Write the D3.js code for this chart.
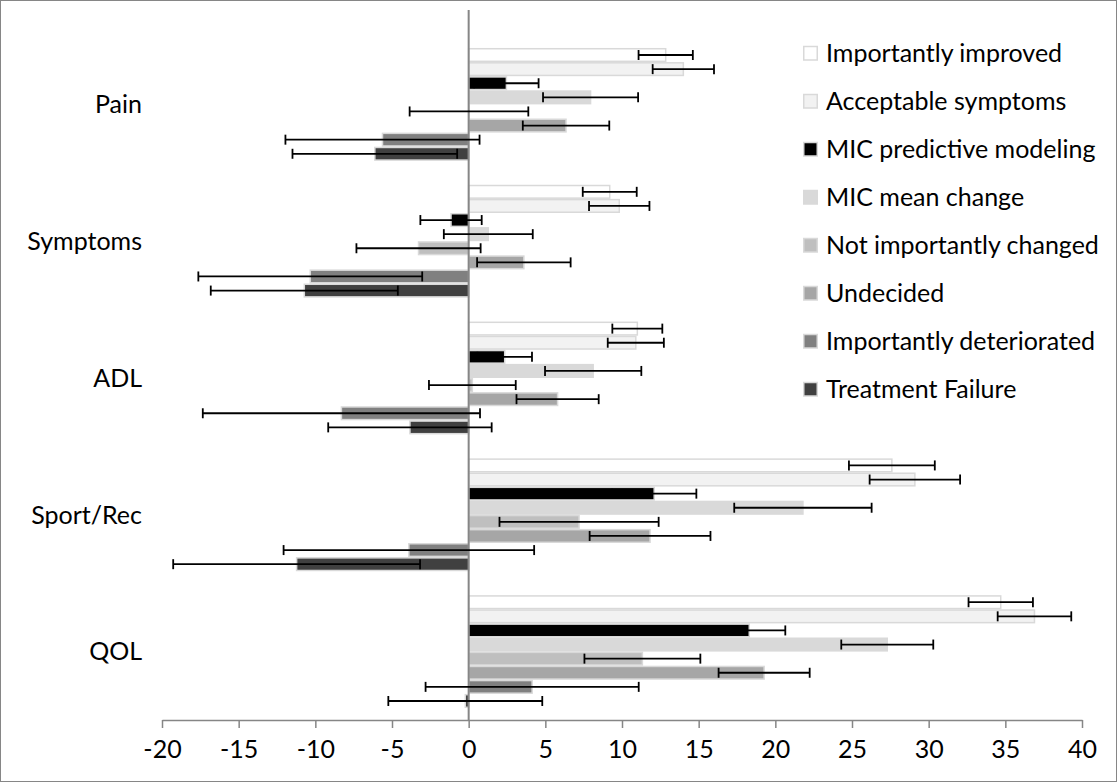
<!DOCTYPE html>
<html>
<head>
<meta charset="utf-8">
<script src="https://cdn.jsdelivr.net/npm/d3@7"></script>
<style>
  body { margin: 0; background: #fff; }
  svg { display: block; font-family: Lato, 'Open Sans', sans-serif; }
</style>
</head>
<body>
<svg id="chart" width="1117" height="782"></svg>
<script>
const categories = ['Pain', 'Symptoms', 'ADL', 'Sport/Rec', 'QOL']
const seriesNames = [
  'Importantly improved',
  'Acceptable symptoms',
  'MIC predictive modeling',
  'MIC mean change',
  'Not importantly changed',
  'Undecided',
  'Importantly deteriorated',
  'Treatment Failure'
]

// mean values, one per category (Pain, Symptoms, ADL, Sport/Rec, QOL)
const importantlyImproved = [12.85, 9.2, 11.0, 27.6, 34.7]
const acceptableSymptoms = [14.0, 9.82, 10.9, 29.1, 36.9]
const micPredictive = [2.46, -1.15, 2.35, 12.1, 18.3]
const micMeanChange = [7.95, 1.28, 8.12, 21.8, 27.3]
const notImportantlyChanged = [0.02, -3.27, 0.24, 7.2, 11.33]
const undecided = [6.35, 3.6, 5.8, 11.83, 19.27]
const importantlyDeteriorated = [-5.62, -10.33, -8.3, -3.9, 4.14]
const treatmentFailure = [-6.12, -10.72, -3.83, -11.22, -0.22]

// error bar half widths
const importantlyImprovedErr = [1.77, 1.76, 1.63, 2.8, 2.1]
const acceptableSymptomsErr = [2.0, 1.97, 1.83, 2.95, 2.4]
const micPredictiveErr = [2.1, 2.0, 1.78, 2.75, 2.35]
const micMeanChangeErr = [3.1, 2.9, 3.14, 4.48, 3.0]
const notImportantlyChangedErr = [3.87, 4.05, 2.83, 5.19, 3.78]
const undecidedErr = [2.82, 3.05, 2.68, 3.94, 2.97]
const importantlyDeterioratedErr = [6.33, 7.3, 9.04, 8.17, 6.95]
const treatmentFailureErr = [5.37, 6.1, 5.33, 8.05, 5.02]

const xTicks = [-20, -15, -10, -5, 0, 5, 10, 15, 20, 25, 30, 35, 40]

const seriesValues = [importantlyImproved, acceptableSymptoms, micPredictive, micMeanChange,
  notImportantlyChanged, undecided, importantlyDeteriorated, treatmentFailure]
const seriesErrors = [importantlyImprovedErr, acceptableSymptomsErr, micPredictiveErr, micMeanChangeErr,
  notImportantlyChangedErr, undecidedErr, importantlyDeterioratedErr, treatmentFailureErr]
const fills = ['#ffffff', '#f2f2f2', '#000000', '#d9d9d9', '#bfbfbf', '#a6a6a6', '#808080', '#404040']

const width = 1117
const height = 782
const plot = { left: 162, right: 1082, top: 36, bottom: 720 }
const axisTop = 10
const fontSize = 25

const svg = d3.select('#chart')

svg.append('rect')
  .attr('x', 0.5).attr('y', 0.5)
  .attr('width', width - 1).attr('height', height - 1)
  .attr('fill', '#fff')
  .attr('stroke', '#868686')

const x = d3.scaleLinear().domain([-20, 40]).range([plot.left, plot.right])
const y = d3.scaleBand().domain(categories).range([plot.top, plot.bottom])
  .paddingInner(0.175).paddingOuter(0.0875)
const ySeries = d3.scaleBand().domain(seriesNames).range([0, y.bandwidth()])

// flatten into rows for drawing
const rows = []
categories.forEach((cat, ci) => {
  seriesNames.forEach((name, si) => {
    rows.push({ cat, name, si, value: seriesValues[si][ci], err: seriesErrors[si][ci] })
  })
})

const bars = svg.append('g').attr('class', 'bars')
bars.selectAll('rect')
  .data(rows)
  .enter()
  .append('rect')
  .attr('x', d => x(Math.min(0, d.value)))
  .attr('y', d => y(d.cat) + ySeries(d.name) + 0.75)
  .attr('width', d => Math.abs(x(d.value) - x(0)))
  .attr('height', ySeries.bandwidth() - 1.5)
  .attr('fill', d => fills[d.si])
  .attr('stroke', '#d9d9d9')
  .attr('stroke-width', 1.5)

// x axis, plain hyphen for negatives like the original
const xAxis = svg.append('g')
  .attr('transform', `translate(0,${plot.bottom})`)
  .call(d3.axisBottom(x).tickValues(xTicks).tickFormat(d => String(d))
    .tickSize(8).tickSizeOuter(0).tickPadding(12))
xAxis.select('.domain').attr('stroke', '#868686').attr('stroke-width', 1.5)
xAxis.selectAll('.tick line').attr('stroke', '#868686').attr('stroke-width', 1.5)
xAxis.selectAll('.tick text')
  .attr('font-size', fontSize)
  .attr('font-family', 'Lato, sans-serif')
  .attr('fill', '#000')

// vertical axis at zero
svg.append('line')
  .attr('x1', x(0)).attr('x2', x(0))
  .attr('y1', axisTop).attr('y2', plot.bottom)
  .attr('stroke', '#868686')
  .attr('stroke-width', 2)

// error bars
const capHalf = 5
const errs = svg.append('g').attr('class', 'errorBars')
  .attr('stroke', '#000').attr('stroke-width', 1.8)
errs.selectAll('g')
  .data(rows)
  .enter()
  .each(function (d) {
    const cy = y(d.cat) + ySeries(d.name) + ySeries.bandwidth() / 2
    const x0 = x(d.value - d.err)
    const x1 = x(d.value + d.err)
    const g = d3.select(this).append('g')
    g.append('line').attr('x1', x0).attr('x2', x1).attr('y1', cy).attr('y2', cy)
    g.append('line').attr('x1', x0).attr('x2', x0).attr('y1', cy - capHalf).attr('y2', cy + capHalf)
    g.append('line').attr('x1', x1).attr('x2', x1).attr('y1', cy - capHalf).attr('y2', cy + capHalf)
  })

// category labels
svg.append('g').attr('class', 'catLabels')
  .selectAll('text')
  .data(categories)
  .enter()
  .append('text')
  .attr('x', plot.left - 20)
  .attr('y', d => y(d) + y.bandwidth() / 2)
  .attr('dy', '0.35em')
  .attr('text-anchor', 'end')
  .attr('font-size', fontSize)
  .text(d => d)

// legend
const legend = svg.append('g').attr('class', 'legend')
  .attr('transform', 'translate(803,53)')
legend.selectAll('g')
  .data(seriesNames)
  .enter()
  .append('g')
  .attr('transform', (d, i) => `translate(0,${i * 48})`)
  .each(function (d, i) {
    d3.select(this).append('rect')
      .attr('x', 0.75).attr('y', -6.5)
      .attr('width', 13.5).attr('height', 13.5)
      .attr('fill', fills[i])
      .attr('stroke', '#d9d9d9')
      .attr('stroke-width', 1.5)
    d3.select(this).append('text')
      .attr('x', 23)
      .attr('dy', '0.35em')
      .attr('font-size', fontSize)
      .text(d => d)
  })
</script>
</body>
</html>
